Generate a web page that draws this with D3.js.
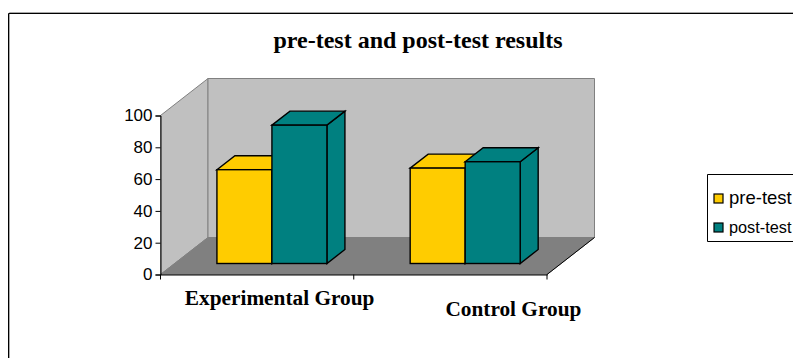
<!doctype html>
<html lang="en">
<head>
    <title>pre-test and post-test results</title>
    <meta charset="utf-8"/>
    <script src="https://d3js.org/d3.v7.min.js"></script>
    <style>
        body { margin: 0; padding: 0; background: white; }
        svg { display: block; }
        .serif { font-family: 'Liberation Serif', serif; font-weight: bold; fill: black; }
        .sans { font-family: 'Liberation Sans', sans-serif; fill: black; }
        .tick text { font-family: 'Liberation Sans', sans-serif; font-size: 17px; fill: black; }
    </style>
</head>
<body>
<script>
    // data
    const categories = ['Experimental Group', 'Control Group']
    const seriesNames = ['pre-test', 'post-test']
    const seriesColors = ['#FFCC00', '#008080']
    const preTest = [59, 60]
    const postTest = [87, 64]
    const yTicks = [0, 20, 40, 60, 80, 100]

    const seriesValues = [preTest, postTest]

    const width = 793, height = 358

    const svg = d3.select('body').append('svg')
        .attr('width', width)
        .attr('height', height)

    // outer frame, open at the right and the bottom like the original
    svg.append('path').attr('d', 'M9.5,358V12.5H793').attr('fill', 'none').attr('stroke', '#a8a8a8').attr('stroke-width', 1)
    svg.append('path').attr('d', 'M8.5,358V13.5H793').attr('fill', 'none').attr('stroke', 'black').attr('stroke-width', 1)

    svg.append('text').attr('class', 'serif')
        .attr('x', 418).attr('y', 47.5)
        .attr('text-anchor', 'middle')
        .style('font-size', '24px')
        .text('pre-test and post-test results')

    // scales of the front plane
    const plotLeft = 160.5, plotRight = 547, plotBottom = 274.5, plotTop = 115.5
    const y = d3.scaleLinear().domain([0, 100]).range([plotBottom, plotTop])
    const x = d3.scaleBand().domain(categories).range([plotLeft, plotRight])
    const inner = d3.scaleBand().domain(seriesNames).range([0, 110])

    // 3d offsets
    const depth = {x: 47.5, y: -37}      // whole box
    const barShift = {x: 14.8, y: -11}   // bar front from the front plane
    const barDepth = {x: 18, y: -14}     // depth of a bar

    const pts = a => a.map(p => p.join(',')).join(' ')

    // left wall
    svg.append('polygon')
        .attr('points', pts([[plotLeft, y(0)], [plotLeft, y(100)], [plotLeft + depth.x, y(100) + depth.y], [plotLeft + depth.x, y(0) + depth.y]]))
        .attr('fill', '#C0C0C0').attr('stroke', '#808080')
    // back wall
    svg.append('polygon')
        .attr('points', pts([[plotLeft + depth.x, y(100) + depth.y], [plotRight + depth.x, y(100) + depth.y], [plotRight + depth.x, y(0) + depth.y], [plotLeft + depth.x, y(0) + depth.y]]))
        .attr('fill', '#C0C0C0').attr('stroke', '#808080')
    // floor
    svg.append('polygon')
        .attr('points', pts([[plotLeft, y(0)], [plotRight, y(0)], [plotRight + depth.x, y(0) + depth.y], [plotLeft + depth.x, y(0) + depth.y]]))
        .attr('fill', '#808080').attr('stroke', '#808080')
    svg.append('line')
        .attr('x1', plotRight).attr('y1', y(0))
        .attr('x2', plotRight + depth.x).attr('y2', y(0) + depth.y)
        .attr('stroke', 'black')

    // y axis
    const yAxis = d3.axisLeft(y).tickValues(yTicks).tickSize(5).tickPadding(3).tickFormat(d3.format('d'))
    svg.append('g').attr('transform', `translate(${plotLeft},0)`).call(yAxis)
        .selectAll('path,line').attr('stroke', 'black')

    // x axis
    const xAxis = d3.axisBottom(x).tickValues([]).tickSize(0)
    svg.append('g').attr('transform', `translate(0,${plotBottom})`).call(xAxis)
        .selectAll('path').attr('stroke', 'black')
    svg.selectAll('.xtick')
        .data([plotLeft, plotLeft + x.step(), plotRight])
        .enter().append('line')
        .attr('x1', d => d).attr('x2', d => d)
        .attr('y1', plotBottom).attr('y2', plotBottom + 5)
        .attr('stroke', 'black')

    const catLabelY = [305, 316]
    const catLabelShift = [22.5, 63]
    svg.selectAll('.cat')
        .data(categories)
        .enter().append('text')
        .attr('class', 'serif')
        .attr('x', (d, i) => x(d) + x.bandwidth() / 2 + catLabelShift[i])
        .attr('y', (d, i) => catLabelY[i])
        .attr('text-anchor', 'middle')
        .style('font-size', '21.3px')
        .text(d => d)

    // bars
    categories.forEach(function (cat, c) {
        seriesNames.forEach(function (name, s) {
            const v = seriesValues[s][c]
            const g = svg.append('g').attr('stroke', 'black').attr('stroke-width', 1.4).attr('stroke-linejoin', 'miter')
            const x0 = x(cat) + (x.bandwidth() - 110) / 2 + inner(name) + barShift.x
            const x1 = x0 + inner.bandwidth()
            const y0 = y(0) + barShift.y
            const y1 = y(v) + barShift.y
            const dx = barDepth.x, dy = barDepth.y
            g.append('polygon') // side
                .attr('points', pts([[x1, y0], [x1, y1], [x1 + dx, y1 + dy], [x1 + dx, y0 + dy]]))
                .attr('fill', seriesColors[s])
            g.append('polygon') // top
                .attr('points', pts([[x0, y1], [x1, y1], [x1 + dx, y1 + dy], [x0 + dx, y1 + dy]]))
                .attr('fill', seriesColors[s])
            g.append('rect') // front
                .attr('x', x0).attr('y', y1)
                .attr('width', x1 - x0).attr('height', y0 - y1)
                .attr('fill', seriesColors[s])
        })
    })

    // legend
    const legend = svg.append('g')
    legend.append('path')
        .attr('d', 'M793,174.5H707.5V241.5H793')
        .attr('fill', 'white').attr('stroke', 'black')
    const legendY = [198.5, 227.5]
    const legendFont = [18.5, 16.3]
    seriesNames.forEach(function (name, i) {
        legend.append('rect')
            .attr('x', 714).attr('y', legendY[i] - 4.5)
            .attr('width', 9).attr('height', 9)
            .attr('fill', seriesColors[i]).attr('stroke', 'black').attr('stroke-width', 1.2)
        legend.append('text').attr('class', 'sans')
            .attr('x', 729).attr('y', legendY[i] + 5.5)
            .style('font-size', legendFont[i] + 'px')
            .text(name)
    })
</script>
</body>
</html>
